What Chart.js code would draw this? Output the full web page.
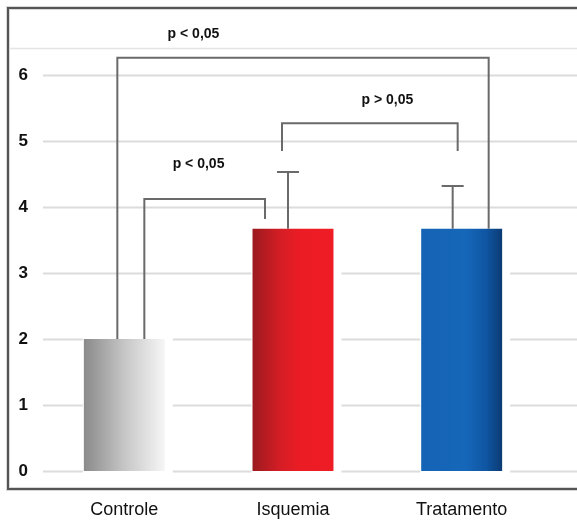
<!DOCTYPE html>
<html>
<head>
<meta charset="utf-8">
<script src="https://cdn.jsdelivr.net/npm/chart.js@4.4.1/dist/chart.umd.min.js"></script>
<style>
html, body { margin: 0; padding: 0; background: #fff; overflow: hidden; }
#wrap { width: 577px; height: 522px; }
</style>
</head>
<body>
<div id="wrap"><canvas id="chart"></canvas></div>
<script>
const groups = ['Controle', 'Isquemia', 'Tratamento'];
const means = [2.0, 3.67, 3.67];
const upperError = [null, 4.53, 4.32];
const yTicks = [0, 1, 2, 3, 4, 5, 6];
const bracketPairs = [[0, 2], [0, 1], [1, 2]];
const bracketTops = [6.26, 4.12, 5.27];
const bracketEnds = [[2.0, 3.67], [2.0, 3.82], [4.85, 4.85]];
const bracketLabels = ['p < 0,05', 'p < 0,05', 'p > 0,05'];
const labelLevels = [6.62, 4.65, 5.62];

const barStops = [
    [[0, '#8a8a8a'], [0.5, '#c6c6c6'], [1, '#f6f6f6']],
    [[0, '#9b1a1f'], [0.35, '#d61d25'], [0.6, '#ec1c24'], [1, '#ee1d25']],
    [[0, '#1563b5'], [0.55, '#1667b9'], [0.8, '#0f56a3'], [1, '#0b3b74']],
];

function barGradient(context) {
    const chart = context.chart;
    if (!chart.chartArea) return '#999';
    const x = chart.scales.x;
    const c = x.getPixelForValue(context.dataIndex);
    const half = x.width / groups.length * 0.48 / 2;
    const g = chart.ctx.createLinearGradient(c - half, 0, c + half, 0);
    barStops[context.dataIndex].forEach(s => g.addColorStop(s[0], s[1]));
    return g;
}

const decorations = {
    id: 'decorations',
    beforeDatasetsDraw(chart) {
        const { ctx, chartArea, scales: { x, y } } = chart;
        const W = chart.width;
        ctx.save();
        // frame
        ctx.strokeStyle = '#d8d8d8';
        ctx.lineWidth = 4;
        ctx.strokeRect(8, 8, W + 20, 481);
        ctx.strokeStyle = '#555';
        ctx.lineWidth = 2;
        ctx.strokeRect(8, 8, W + 20, 481);
        // separator under top strip
        ctx.strokeStyle = '#e4e4e4';
        ctx.lineWidth = 1.5;
        ctx.beginPath();
        ctx.moveTo(9, y.getPixelForValue(6.4));
        ctx.lineTo(W, y.getPixelForValue(6.4));
        ctx.stroke();
        // grid
        ctx.strokeStyle = '#dcdcdc';
        ctx.lineWidth = 2;
        yTicks.forEach(v => {
            const py = Math.round(y.getPixelForValue(v)) + 0.5;
            ctx.beginPath();
            ctx.moveTo(chartArea.left + 3, py);
            ctx.lineTo(W, py);
            ctx.stroke();
        });
        // white halo around bars
        ctx.fillStyle = '#fff';
        chart.getDatasetMeta(0).data.forEach(bar => {
            ctx.fillRect(bar.x - bar.width / 2 - 1, bar.y - 1, bar.width + 9, bar.base - bar.y + 4);
        });
        ctx.restore();
    },
    afterDatasetsDraw(chart) {
        const { ctx, scales: { x, y } } = chart;
        const step = x.getPixelForValue(1) - x.getPixelForValue(0);
        const errShift = [0, -5, -9];
        const endShift = [[-7, 27], [20, -28], [-11, -4]];
        const labelAt = [0.41, 0.44, 1.56];
        ctx.save();
        ctx.strokeStyle = '#6a6a6a';
        ctx.lineWidth = 2;
        // error bars
        upperError.forEach((v, i) => {
            if (v == null) return;
            const px = x.getPixelForValue(i) + errShift[i];
            const top = y.getPixelForValue(v);
            ctx.beginPath();
            ctx.moveTo(px, y.getPixelForValue(means[i]));
            ctx.lineTo(px, top);
            ctx.moveTo(px - 11, top);
            ctx.lineTo(px + 11, top);
            ctx.stroke();
        });
        // significance brackets
        bracketPairs.forEach((pair, i) => {
            const x1 = x.getPixelForValue(pair[0]) + endShift[i][0];
            const x2 = x.getPixelForValue(pair[1]) + endShift[i][1];
            const top = y.getPixelForValue(bracketTops[i]);
            ctx.beginPath();
            ctx.moveTo(x1, y.getPixelForValue(bracketEnds[i][0]));
            ctx.lineTo(x1, top);
            ctx.lineTo(x2, top);
            ctx.lineTo(x2, y.getPixelForValue(bracketEnds[i][1]));
            ctx.stroke();
        });
        ctx.fillStyle = '#111';
        ctx.font = 'bold 14px "Liberation Sans", Arial, sans-serif';
        ctx.textAlign = 'center';
        ctx.textBaseline = 'middle';
        bracketLabels.forEach((t, i) => {
            ctx.fillText(t, x.getPixelForValue(0) + labelAt[i] * step, y.getPixelForValue(labelLevels[i]));
        });
        ctx.restore();
    }
};

new Chart(document.getElementById('chart'), {
    type: 'bar',
    data: {
        labels: groups,
        datasets: [{
            data: means,
            backgroundColor: barGradient,
            borderWidth: 0,
            barPercentage: 0.48,
            categoryPercentage: 1,
        }]
    },
    options: {
        responsive: true,
        maintainAspectRatio: false,
        animation: false,
        layout: { padding: { top: 9, right: 31, bottom: 0, left: 0 } },
        plugins: { legend: { display: false }, tooltip: { enabled: false } },
        scales: {
            x: {
                grid: { display: false, drawTicks: false },
                border: { display: false },
                ticks: { color: '#111', padding: 28, font: { family: '"Liberation Sans Narrow", "Liberation Sans", Arial', size: 18 } },
                afterFit: s => { s.height = 51; }
            },
            y: {
                min: 0,
                max: 7,
                grid: { display: false, drawTicks: false },
                border: { display: false },
                afterBuildTicks: s => { s.ticks = yTicks.map(v => ({ value: v })); },
                ticks: { color: '#111', padding: 12, font: { family: '"Liberation Sans", Arial', size: 17, weight: 'bold' } },
                afterFit: s => { s.width = 40; s.paddingTop = 0; s.paddingBottom = 0; }
            }
        }
    },
    plugins: [decorations]
});
</script>
</body>
</html>
